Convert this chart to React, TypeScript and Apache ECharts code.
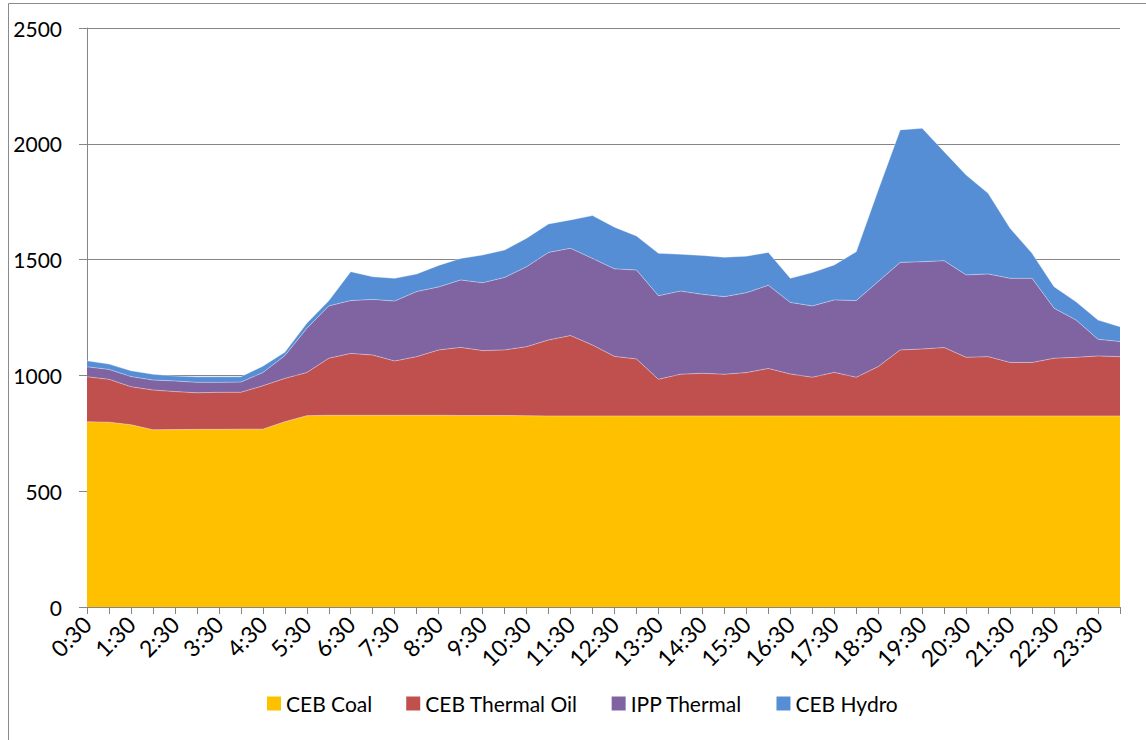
import React, { useEffect, useRef } from "react";
import * as echarts from "echarts";

const times = [
  "0:30", "1:00", "1:30", "2:00", "2:30", "3:00", "3:30", "4:00", "4:30", "5:00",
  "5:30", "6:00", "6:30", "7:00", "7:30", "8:00", "8:30", "9:00", "9:30", "10:00",
  "10:30", "11:00", "11:30", "12:00", "12:30", "13:00", "13:30", "14:00", "14:30", "15:00",
  "15:30", "16:00", "16:30", "17:00", "17:30", "18:00", "18:30", "19:00", "19:30", "20:00",
  "20:30", "21:00", "21:30", "22:00", "22:30", "23:00", "23:30", "0:00",
];

const cebCoal = [
  800, 798, 787, 765, 766, 767, 767, 768, 768, 800,
  826, 828, 828, 828, 828, 828, 828, 827, 827, 827,
  826, 825, 825, 825, 825, 825, 825, 825, 825, 825,
  825, 825, 825, 825, 825, 825, 825, 825, 825, 825,
  825, 825, 825, 825, 825, 825, 825, 825,
];

const cebThermalOil = [
  194, 185, 164, 172, 164, 158, 160, 159, 187, 187,
  186, 246, 267, 260, 234, 253, 282, 294, 280, 283,
  298, 328, 347, 306, 257, 246, 158, 180, 184, 180,
  187, 205, 181, 167, 188, 167, 213, 285, 289, 295,
  253, 256, 231, 231, 249, 253, 259, 256,
];

const ippThermal = [
  43, 43, 44, 43, 46, 45, 43, 44, 57, 98,
  191, 226, 228, 240, 259, 281, 272, 291, 293, 313,
  345, 378, 377, 374, 378, 384, 361, 359, 341, 335,
  345, 359, 309, 308, 313, 331, 367, 378, 377, 375,
  356, 357, 363, 363, 216, 161, 72, 65,
];

const cebHydro = [
  26, 23, 25, 25, 21, 24, 24, 23, 28, 15,
  22, 22, 125, 98, 98, 76, 93, 93, 120, 118,
  123, 123, 122, 185, 180, 147, 183, 159, 168, 170,
  158, 142, 104, 144, 151, 211, 395, 572, 576, 471,
  431, 348, 216, 108, 93, 79, 83, 64,
];

const yTicks = [0, 500, 1000, 1500, 2000, 2500];

const seriesNames = ["CEB Coal", "CEB Thermal Oil", "IPP Thermal", "CEB Hydro"];
const seriesColors = ["#FFC000", "#C0504D", "#8064A2", "#558ED5"];

const FONT = "Lato";

export default function App() {
  const ref = useRef<HTMLDivElement>(null);

  useEffect(() => {
    if (!ref.current) return;
    const chart = echarts.init(ref.current, null, { renderer: "svg" });
    const datasets = [cebCoal, cebThermalOil, ippThermal, cebHydro];
    chart.setOption({
      animation: false,
      backgroundColor: "#ffffff",
      textStyle: { fontFamily: FONT },
      grid: { left: 87, right: 26, top: 28, bottom: 133, containLabel: false },
      graphic: [
        {
          type: "rect",
          shape: { x: 8.5, y: 3.5, width: 1200, height: 800 },
          style: { fill: "none", stroke: "#8a8a8a", lineWidth: 1 },
          silent: true,
        },
      ],
      legend: {
        left: 262,
        top: 688,
        itemWidth: 14,
        itemHeight: 14,
        itemGap: 34,
        icon: "rect",
        textStyle: { fontFamily: FONT, fontSize: 21, color: "#000" },
        data: seriesNames,
      },
      xAxis: {
        type: "category",
        boundaryGap: false,
        data: times,
        axisLine: { show: true, lineStyle: { color: "#868686", width: 1 } },
        axisTick: { show: true, interval: 0, length: 7, lineStyle: { color: "#868686" } },
        axisLabel: {
          interval: 1,
          rotate: 45,
          margin: 13,
          fontFamily: FONT,
          fontSize: 23,
          color: "#000",
        },
        splitLine: { show: false },
      },
      yAxis: {
        type: "value",
        min: yTicks[0],
        max: yTicks[yTicks.length - 1],
        interval: 500,
        axisLine: { show: true, lineStyle: { color: "#868686", width: 1 } },
        axisTick: { show: true, length: 8, lineStyle: { color: "#868686" } },
        axisLabel: {
          margin: 25,
          fontFamily: FONT,
          fontSize: 21,
          color: "#000",
          formatter: (v: number) => String(v),
        },
        splitLine: { show: true, lineStyle: { color: "#868686", width: 1 } },
      },
      series: seriesNames.map((name, i) => ({
        name,
        type: "line",
        stack: "total",
        data: datasets[i],
        symbol: "none",
        color: seriesColors[i],
        lineStyle: { width: 0.8, color: "rgba(255,255,255,0.45)" },
        areaStyle: { color: seriesColors[i], opacity: 1 },
        emphasis: { disabled: true },
      })),
    });
    return () => chart.dispose();
  }, []);

  return (
    <div
      ref={ref}
      style={{ position: "absolute", left: 0, top: 0, width: 1146, height: 740 }}
    />
  );
}
